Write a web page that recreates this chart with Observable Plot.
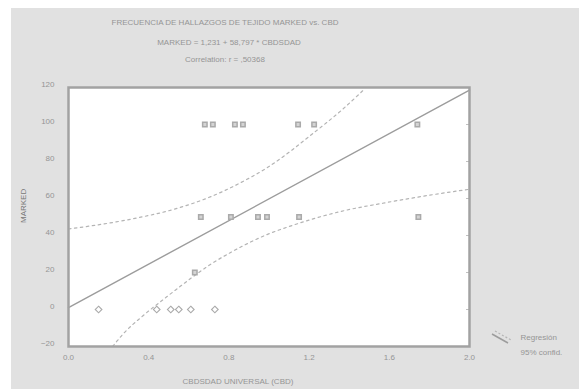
<!DOCTYPE html>
<html>
<head>
<meta charset="utf-8">
<script src="https://cdn.jsdelivr.net/npm/d3@7"></script>
<script src="https://cdn.jsdelivr.net/npm/@observablehq/plot@0.6"></script>
<style>
  html, body { margin: 0; padding: 0; background: white; }
  svg { display: block; }
</style>
</head>
<body>
<div id="chart"></div>
<script>
// Observed data
const cbd    = [0.68, 0.72, 0.83, 0.87, 1.145, 1.225, 1.74,
                0.66, 0.81, 0.945, 0.99, 1.15, 1.745,
                0.63,
                0.15, 0.44, 0.51, 0.55, 0.61, 0.73];
const marked = [100, 100, 100, 100, 100, 100, 100,
                50, 50, 50, 50, 50, 50,
                20,
                0, 0, 0, 0, 0, 0];
const shape  = ["sq","sq","sq","sq","sq","sq","sq",
                "sq","sq","sq","sq","sq","sq",
                "sq",
                "di","di","di","di","di","di"];

// Regression line
const regX = [0, 2.0];
const regY = [1.0, 118.6];

// 95% confidence bands
const upX = [0, 0.31, 0.52, 0.71, 0.87, 0.99, 1.10, 1.20, 1.37, 1.47];
const upY = [43.5, 48.8, 54.0, 61.0, 69.2, 76.6, 85.0, 93.5, 108.5, 118.5];
const loX = [0.22, 0.27, 0.37, 0.48, 0.59, 0.71, 0.82, 0.99, 1.11, 1.22, 1.39, 1.56, 1.79, 2.0];
const loY = [-20, -13.5, -3.5, 6.0, 15.2, 24.5, 31.5, 40.5, 45.2, 49.0, 53.8, 57.3, 61.6, 65.0];

const xTicks = [0, 0.4, 0.8, 1.2, 1.6, 2.0];
const yTicks = [-20, 0, 20, 40, 60, 80, 100, 120];

const titleLines = [
  "FRECUENCIA DE HALLAZGOS DE TEJIDO MARKED vs. CBD",
  "MARKED = 1,231 + 58,797 * CBDSDAD",
  "Correlation: r = ,50368"
];
const xLabel = "CBDSDAD UNIVERSAL (CBD)";
const yLabel = "MARKED";
const legendLabels = ["Regresión", "95% confid."];

const pts = cbd.map((x, i) => ({x, y: marked[i], s: shape[i]}));
const reg = regX.map((x, i) => ({x, y: regY[i]}));
const up = upX.map((x, i) => ({x, y: upY[i]}));
const lo = loX.map((x, i) => ({x, y: loY[i]}));

const grey = "#9c9c9c";
const textGrey = "#959595";

const chart = Plot.plot({
  width: 580,
  height: 389,
  marginLeft: 68,
  marginRight: 111,
  marginTop: 87,
  marginBottom: 43,
  style: {background: "white", fontFamily: "Liberation Sans, Arial, sans-serif", fontSize: "8px", color: textGrey},
  x: {domain: [0, 2.0], ticks: xTicks, tickFormat: d => d.toFixed(1), tickSize: 0, tickPadding: 8, label: null},
  y: {domain: [-20, 120], ticks: yTicks, tickSize: 0, tickPadding: 14, label: null},
  marks: [
    Plot.frame({fill: "white", stroke: "none"}),
    Plot.axisX({ticks: xTicks, tickFormat: d => d.toFixed(1), tickSize: 0, tickPadding: 8, fill: textGrey, fontSize: 8}),
    Plot.axisY({ticks: yTicks, tickSize: 0, tickPadding: 14, fill: textGrey, fontSize: 8, dy: -3}),
    Plot.axisY({anchor: "right", ticks: yTicks.slice(1, -1), tickSize: -4, tickFormat: () => "", stroke: "#c0c0c0"}),
    Plot.line(up, {x: "x", y: "y", stroke: "#b4b4b4", strokeWidth: 1.2, strokeDasharray: "2.5,3.5", curve: "monotone-x", clip: true}),
    Plot.line(lo, {x: "x", y: "y", stroke: "#b4b4b4", strokeWidth: 1.2, strokeDasharray: "2.5,3.5", curve: "monotone-x", clip: true}),
    Plot.line(reg, {x: "x", y: "y", stroke: grey, strokeWidth: 1.4}),
    Plot.dot(pts.filter(d => d.s === "sq"), {x: "x", y: "y", symbol: "square", r: 2.5, stroke: "#aaaaaa", strokeWidth: 1.5, fill: "#d4d4d4"}),
    Plot.dot(pts.filter(d => d.s === "di"), {x: "x", y: "y", symbol: "diamond2", r: 3.0, stroke: "#aaaaaa", strokeWidth: 1.1, fill: "none"}),
    Plot.frame({stroke: "#a2a2a2", strokeWidth: 2.5}),
    Plot.text([titleLines[0]], {frameAnchor: "top", dx: -44, dy: -65, fill: textGrey, fontSize: 8, lineAnchor: "middle"}),
    Plot.text([titleLines[1]], {frameAnchor: "top", dx: -40, dy: -45, fill: textGrey, fontSize: 8, lineAnchor: "middle"}),
    Plot.text([titleLines[2]], {frameAnchor: "top", dx: -44, dy: -28, fill: textGrey, fontSize: 8, lineAnchor: "middle"}),
    Plot.text([xLabel], {frameAnchor: "bottom", dx: -31, dy: 35, fill: textGrey, fontSize: 8, lineAnchor: "middle"}),
    Plot.text([yLabel], {frameAnchor: "left", dx: -45, dy: 6, rotate: -90, fill: "#777", fontSize: 8, lineAnchor: "middle"}),
    Plot.text([legendLabels[0]], {frameAnchor: "bottom-right", dx: 51, dy: -9, textAnchor: "start", fill: textGrey, fontSize: 8, lineAnchor: "middle"}),
    Plot.text([legendLabels[1]], {frameAnchor: "bottom-right", dx: 51, dy: 6, textAnchor: "start", fill: textGrey, fontSize: 8, lineAnchor: "middle"})
  ]
});

// panel background and legend icon
const svg = d3.select(chart);
svg.insert("rect", ":first-child")
  .attr("x", 11).attr("y", 8).attr("width", 568).attr("height", 381)
  .attr("fill", "#e1e1e1");
svg.append("line").attr("x1", 492).attr("y1", 334).attr("x2", 508).attr("y2", 343)
  .attr("stroke", grey).attr("stroke-width", 1.5);
svg.append("line").attr("x1", 495).attr("y1", 331).attr("x2", 511).attr("y2", 340)
  .attr("stroke", "#b4b4b4").attr("stroke-width", 1.2).attr("stroke-dasharray", "2,2");

document.getElementById("chart").appendChild(chart);
</script>
</body>
</html>
